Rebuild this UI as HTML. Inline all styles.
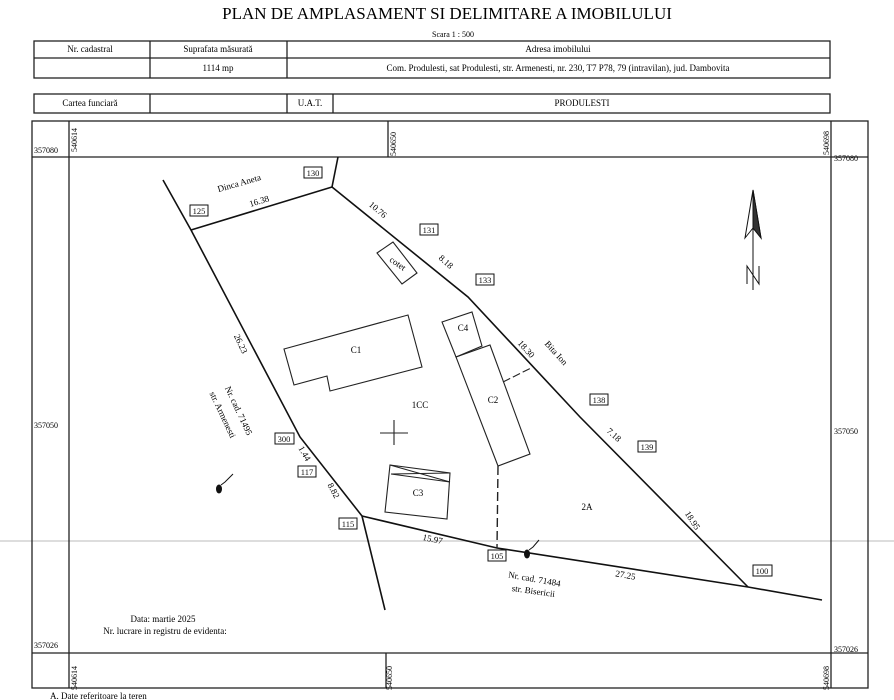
<!DOCTYPE html>
<html><head><meta charset="utf-8"><style>
html,body{margin:0;padding:0;background:#fff;}
svg{display:block;font-family:"Liberation Serif",serif;}
</style></head><body>
<svg width="894" height="700" viewBox="0 0 894 700" xmlns="http://www.w3.org/2000/svg">
<rect width="894" height="700" fill="#fff"/>
<line x1="0" y1="541" x2="894" y2="541" stroke="#ddd" stroke-width="2"/>
<text x="447" y="19" font-size="17" text-anchor="middle">PLAN DE AMPLASAMENT SI DELIMITARE A IMOBILULUI</text>
<text x="453" y="37" font-size="8" text-anchor="middle">Scara 1 : 500</text>
<g stroke="#222" stroke-width="1.3" fill="none">
<rect x="34" y="41" width="796" height="37"/>
<line x1="34" y1="58" x2="830" y2="58"/>
<line x1="150" y1="41" x2="150" y2="78"/>
<line x1="287" y1="41" x2="287" y2="78"/>
<rect x="34" y="94" width="796" height="19"/>
<line x1="150" y1="94" x2="150" y2="113"/>
<line x1="287" y1="94" x2="287" y2="113"/>
<line x1="333" y1="94" x2="333" y2="113"/>
<rect x="32" y="121" width="836" height="567"/>
<line x1="32" y1="157" x2="868" y2="157"/>
<line x1="32" y1="653" x2="868" y2="653"/>
<line x1="69" y1="121" x2="69" y2="688"/>
<line x1="831" y1="121" x2="831" y2="688"/>
<line x1="388" y1="121" x2="388" y2="157"/>
<line x1="386" y1="653" x2="386" y2="688"/>
</g>
<g font-size="9" text-anchor="middle">
<text x="90" y="52">Nr. cadastral</text>
<text x="218" y="52">Suprafata măsurată</text>
<text x="558" y="52">Adresa imobilului</text>
<text x="218" y="71">1114 mp</text>
<text x="558" y="71">Com. Produlesti, sat Produlesti, str. Armenesti, nr. 230, T7 P78, 79 (intravilan), jud. Dambovita</text>
<text x="90" y="106">Cartea funciară</text>
<text x="310" y="106">U.A.T.</text>
<text x="582" y="106">PRODULESTI</text>
</g>
<g font-size="8">
<text x="34" y="153">357080</text>
<text x="834" y="161">357080</text>
<text x="34" y="428">357050</text>
<text x="834" y="434">357050</text>
<text x="34" y="648">357026</text>
<text x="834" y="652">357026</text>
<text transform="translate(77 152) rotate(-90)">540614</text>
<text transform="translate(396 156) rotate(-90)">540650</text>
<text transform="translate(829 155) rotate(-90)">540698</text>
<text transform="translate(77 690) rotate(-90)">540614</text>
<text transform="translate(392 690) rotate(-90)">540650</text>
<text transform="translate(829 690) rotate(-90)">540698</text>
</g>
<g stroke="#111" stroke-width="1.6" fill="none">
<polyline points="163,180 191,230 300,437 362,516 385,610"/>
<line x1="191" y1="230" x2="332" y2="187"/>
<line x1="332" y1="187" x2="338" y2="157"/>
<polyline points="332,187 468,297 580,417 748,587"/>
<polyline points="362,516 497,548 748,587 822,600"/>
</g>
<g stroke="#222" stroke-width="1.1" fill="none">
<polygon points="377,253 393,242 417,273 402,284"/>
<polygon points="284,349 408,315 422,367 330,391 327,376 294,385"/>
<polygon points="442,322 472,312 482,346 456,357"/>
<polygon points="456,357 490,345 530,454 498,466"/>
<line x1="503" y1="382" x2="531" y2="368" stroke-dasharray="8,3"/>
<line x1="498" y1="466" x2="497" y2="548" stroke-dasharray="9,4" stroke-width="1.4"/>
<polygon points="390,465 450,473 447,519 385,512"/>
<line x1="391" y1="474" x2="450" y2="482"/>
<line x1="390" y1="465" x2="450" y2="482"/>
<line x1="391" y1="474" x2="450" y2="473"/>
<line x1="394" y1="420" x2="394" y2="445"/><line x1="380" y1="433" x2="408" y2="433"/>
</g>
<g font-size="9" text-anchor="middle">
<text transform="translate(396 266) rotate(35)" font-size="9">cotet</text>
<text x="356" y="353">C1</text><text x="493" y="403">C2</text><text x="418" y="496">C3</text>
<text x="463" y="331">C4</text><text x="420" y="408">1CC</text><text x="587" y="510">2A</text>
</g>
<g font-size="8.5" fill="#111" stroke="#111" stroke-width="1">
<g fill="#fff"><rect x="304" y="167" width="18" height="11"/><rect x="190" y="205" width="18" height="11"/><rect x="420" y="224" width="18" height="11"/><rect x="476" y="274" width="18" height="11"/><rect x="590" y="394" width="18" height="11"/><rect x="638" y="441" width="18" height="11"/><rect x="275" y="433" width="19" height="11"/><rect x="298" y="466" width="18" height="11"/><rect x="339" y="518" width="18" height="11"/><rect x="488" y="550" width="18" height="11"/><rect x="753" y="565" width="19" height="11"/></g>
<g stroke="none" text-anchor="middle"><text x="313" y="176">130</text><text x="199" y="214">125</text><text x="429" y="233">131</text><text x="485" y="283">133</text><text x="599" y="403">138</text><text x="647" y="450">139</text><text x="284" y="442">300</text><text x="307" y="475">117</text><text x="348" y="527">115</text><text x="497" y="559">105</text><text x="762" y="574">100</text></g>
</g>
<g font-size="9" text-anchor="middle">
<text transform="translate(240 186) rotate(-16)">Dinca Aneta</text>
<text transform="translate(260 204) rotate(-17)">16.38</text>
<text transform="translate(376 212) rotate(40)">10.76</text>
<text transform="translate(444 264) rotate(42)">8.18</text>
<text transform="translate(524 351) rotate(48)">18.30</text>
<text transform="translate(554 355) rotate(48)">Bita Ion</text>
<text transform="translate(612 437) rotate(42)">7.18</text>
<text transform="translate(690 522) rotate(57)">18.95</text>
<text transform="translate(238 345) rotate(65)">26.23</text>
<text transform="translate(236 412) rotate(65)">Nr. cad. 71495</text>
<text transform="translate(220 416) rotate(65)">str. Armenesti</text>
<text transform="translate(302 455) rotate(60)">1.44</text>
<text transform="translate(331 492) rotate(62)">8.82</text>
<text transform="translate(432 542) rotate(12)">15.97</text>
<text transform="translate(625 578) rotate(10)">27.25</text>
<text transform="translate(534 582) rotate(10)">Nr. cad. 71484</text>
<text transform="translate(533 594) rotate(8)">str. Bisericii</text>
<text x="163" y="622">Data: martie 2025</text>
<text x="165" y="634">Nr. lucrare in registru de evidenta:</text>
<text x="50" y="699" text-anchor="start">A. Date referitoare la teren</text>
</g>
<g stroke="#111" stroke-width="1" fill="#fff">
<polygon points="753,190 745,238 753,228 761,238"/>
<polygon points="753,190 753,228 761,238" fill="#333"/>
<line x1="753" y1="228" x2="753" y2="290"/>
<polyline points="747,284 747,266 759,284 759,266" fill="none"/>
</g>
<g stroke="#111" stroke-width="1" fill="#111">
<ellipse cx="219" cy="489" rx="2.5" ry="4"/><path d="M221 485 L225 482 L233 474" fill="none"/>
<ellipse cx="527" cy="554" rx="2.5" ry="4"/><path d="M529 550 L533 547 L539 540" fill="none"/>
</g>
</svg>
</body></html>
